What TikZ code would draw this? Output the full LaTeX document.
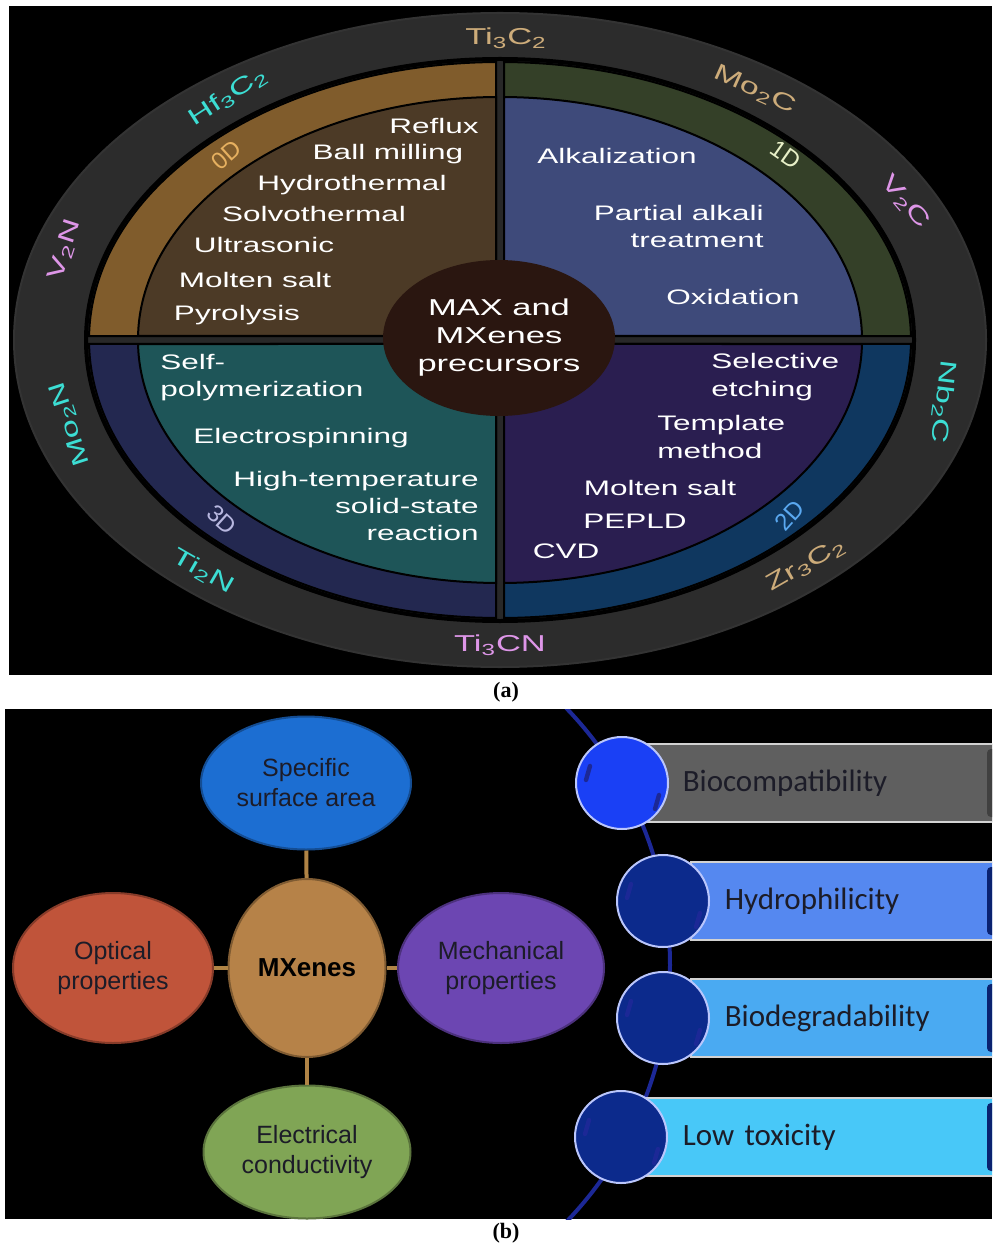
\documentclass[tikz,border=0pt]{standalone}
\usepackage{fontspec}
\setmainfont{Liberation Sans}
\newfontfamily\widefont[FakeStretch=1.5]{Liberation Sans}
\newfontfamily\barfont{Carlito}
\newfontfamily\capfont{Liberation Serif}
\usetikzlibrary{shapes.geometric}

% panel (a) colours
\definecolor{ringgray}{RGB}{44,44,44}
\definecolor{gapgray}{RGB}{40,40,40}
\definecolor{zeroring}{RGB}{128,92,44}
\definecolor{zerofill}{RGB}{76,58,38}
\definecolor{onering}{RGB}{52,64,40}
\definecolor{onefill}{RGB}{62,74,122}
\definecolor{threering}{RGB}{35,40,80}
\definecolor{threefill}{RGB}{30,85,88}
\definecolor{tworing}{RGB}{15,55,95}
\definecolor{twofill}{RGB}{42,30,80}
\definecolor{corebrown}{RGB}{42,22,16}
\definecolor{phasetan}{RGB}{205,172,122}
\definecolor{phasepink}{RGB}{222,150,232}
\definecolor{phasecyan}{RGB}{60,222,212}
% panel (b) colours
\definecolor{surfblue}{RGB}{28,110,210}
\definecolor{mxtan}{RGB}{182,130,72}
\definecolor{optred}{RGB}{192,84,58}
\definecolor{mechpurple}{RGB}{108,70,178}
\definecolor{elecgreen}{RGB}{128,165,85}
\definecolor{linktan}{RGB}{176,132,70}
\definecolor{spineblue}{RGB}{28,40,150}
\definecolor{knobbright}{RGB}{26,64,245}
\definecolor{knobdark}{RGB}{12,42,140}
\definecolor{bargray}{RGB}{95,95,95}
\definecolor{barblue}{RGB}{85,136,240}
\definecolor{barsky}{RGB}{74,170,242}
\definecolor{barcyan}{RGB}{72,200,248}
\definecolor{inkdark}{RGB}{28,28,40}

\tikzset{
  quad/.style={draw=black, line width=1pt},
  method/.style={text=white, inner sep=0pt, anchor=base, font=\widefont\fontsize{10.5}{13.5}\selectfont},
  phase/.style={inner sep=0pt, font=\widefont\fontsize{11.5}{13}\selectfont},
  dim/.style={inner sep=0pt, font=\fontsize{12}{14}\selectfont},
  prop/.style={ellipse, inner sep=0pt, align=center, text=inkdark, line width=1pt,
    font=\fontsize{12.5}{15}\selectfont},
  link/.style={linktan, line width=2pt},
  knob/.style={circle, minimum size=46pt, inner sep=0pt, draw=white!70!knobbright, line width=1pt},
  bar/.style={rectangle, minimum height=39pt, inner ysep=0pt, anchor=west, align=left,
    draw=white!65!gray, line width=0.8pt, text=inkdark, font=\barfont\fontsize{15.5}{18}\selectfont},
  streak/.style={line width=2.2pt, line cap=round, draw=spineblue},
  tag/.style={font=\capfont\bfseries\fontsize{11}{13}\selectfont}
}

\begin{document}
\begin{tikzpicture}[x=0.5pt, y=-0.5pt]
\useasboundingbox (0,0) rectangle (992,1245);

% ---------------- panel (a) ----------------
\fill[black] (9,6) rectangle (992,675);

% outer ring carrying the MAX phases
\filldraw[fill=ringgray, draw=black!80!white, line width=1pt] (500,340) ellipse [x radius=486, y radius=327];
\filldraw[fill=gapgray, draw=black, line width=2pt] (500,340) ellipse [x radius=414, y radius=281];

% coloured quadrant bands
\filldraw[quad, fill=zeroring] (496,336) -- (496,62.01) arc[start angle=-90.56, end angle=-179.18, x radius=411, y radius=278] -- cycle;
\filldraw[quad, fill=onering] (504,336) -- (504,62.01) arc[start angle=-89.44, end angle=-0.82, x radius=411, y radius=278] -- cycle;
\filldraw[quad, fill=threering] (496,344) -- (496,617.99) arc[start angle=90.56, end angle=179.18, x radius=411, y radius=278] -- cycle;
\filldraw[quad, fill=tworing] (504,344) -- (504,617.99) arc[start angle=89.44, end angle=0.82, x radius=411, y radius=278] -- cycle;

% inner quadrants
\filldraw[quad, fill=zerofill] (496,336) -- (496,97.01) arc[start angle=-90.63, end angle=-179.06, x radius=362, y radius=243] -- cycle;
\filldraw[quad, fill=onefill] (504,336) -- (504,97.01) arc[start angle=-89.37, end angle=-0.94, x radius=362, y radius=243] -- cycle;
\filldraw[quad, fill=threefill] (496,344) -- (496,582.99) arc[start angle=90.63, end angle=179.06, x radius=362, y radius=243] -- cycle;
\filldraw[quad, fill=twofill] (504,344) -- (504,582.99) arc[start angle=89.37, end angle=0.94, x radius=362, y radius=243] -- cycle;

% centre
\node[ellipse, fill=corebrown, minimum width=116pt, minimum height=78pt, inner sep=0pt,
  text=white, align=center, font=\widefont\fontsize{11.5}{14}\selectfont] (core) at (499,338)
  {MAX and\\MXenes\\precursors};

% 0D methods
\node[method] (reflux) at (434,134) {Reflux};
\node[method] (ball) at (388,160) {Ball milling};
\node[method] (hydro) at (352,191) {Hydrothermal};
\node[method] (solvo) at (314,222) {Solvothermal};
\node[method] (ultra) at (264,253) {Ultrasonic};
\node[method] (moltenA) at (255,288) {Molten salt};
\node[method] (pyro) at (237,321) {Pyrolysis};

% 1D methods
\node[method] (alkal) at (617,164) {Alkalization};
\node[method, anchor=base east, align=right] (partial) at (764,248) {Partial alkali\\treatment};
\node[method] (oxid) at (733,305) {Oxidation};

% 3D methods
\node[method, anchor=base west, align=left] (selfpoly) at (160,397) {Self-\\polymerization};
\node[method] (espin) at (301,444) {Electrospinning};
\node[method, anchor=base east, align=right] (hightemp) at (479,540) {High-temperature\\solid-state\\reaction};

% 2D methods
\node[method, anchor=base west, align=left] (selective) at (711,396) {Selective\\etching};
\node[method, anchor=base west, align=left] (template) at (657,458) {Template\\method};
\node[method] (moltenB) at (660,495) {Molten salt};
\node[method] (pepld) at (635,528) {PEPLD};
\node[method] (cvd) at (566,558) {CVD};

% dimension tags
\node[dim, text={rgb,255:red,230;green,176;blue,96}, rotate=42] (zeroD) at (226,155) {0D};
\node[dim, text={rgb,255:red,232;green,240;blue,200}, rotate=-35] (oneD) at (786,155) {1D};
\node[dim, text={rgb,255:red,90;green,168;blue,240}, rotate=48] (twoD) at (790,515) {2D};
\node[dim, text={rgb,255:red,184;green,184;blue,224}, rotate=-42] (threeD) at (222,520) {3D};

% MAX phases round the ring
\node[phase, text=phasetan] (tic) at (506,38) {Ti\textsubscript{3}C\textsubscript{2}};
\node[phase, text=phasetan, rotate=-24] (moc) at (755,90) {Mo\textsubscript{2}C};
\node[phase, text=phasepink, rotate=-50] (vc) at (905,202) {V\textsubscript{2}C};
\node[phase, text=phasecyan, rotate=-97] (nbc) at (943,402) {Nb\textsubscript{2}C};
\node[phase, text=phasetan, rotate=30] (zrc) at (806,565) {Zr\textsubscript{3}C\textsubscript{2}};
\node[phase, text=phasepink] (ticn) at (500,645) {Ti\textsubscript{3}CN};
\node[phase, text=phasecyan, rotate=-30] (tin) at (203,572) {Ti\textsubscript{2}N};
\node[phase, text=phasecyan, rotate=108] (mon) at (70,424) {Mo\textsubscript{2}N};
\node[phase, text=phasepink, rotate=72] (vn) at (65,250) {V\textsubscript{2}N};
\node[phase, text=phasecyan, rotate=33] (hfc) at (228,97) {Hf\textsubscript{3}C\textsubscript{2}};

\node[tag] (taga) at (506,692) {(a)};

% ---------------- panel (b) ----------------
\fill[black] (5,709) rectangle (992,1219);

% property map
\node[prop, fill=surfblue, draw=surfblue!70!black, minimum width=105pt, minimum height=66.5pt] (surf) at (306,783) {Specific\\surface area};
\node[prop, fill=mxtan, draw=mxtan!70!black, minimum width=78.5pt, minimum height=89pt, font=\bfseries\fontsize{13}{15}\selectfont, text=black] (mx) at (307,968) {MXenes};
\node[prop, fill=optred, draw=optred!70!black, minimum width=100pt, minimum height=75pt] (opt) at (113,968) {Optical\\properties};
\node[prop, fill=mechpurple, draw=mechpurple!70!black, minimum width=103pt, minimum height=75pt] (mech) at (501,968) {Mechanical\\properties};
\node[prop, fill=elecgreen, draw=elecgreen!70!black, minimum width=103.5pt, minimum height=66.5pt] (elec) at (307,1152) {Electrical\\conductivity};

\draw[link] (mx) -- (surf);
\draw[link] (mx) -- (opt);
\draw[link] (mx) -- (mech);
\draw[link] (mx) -- (elec);

% bio properties
\begin{scope}
\clip (5,709) rectangle (992,1219);
\draw[spineblue, line width=2pt] (300,965) ++(-44:370) arc[start angle=-44, end angle=44, radius=370];

\node[bar, fill=bargray, minimum width=180pt, text width=138pt, inner xsep=21pt] (bio) at (640,783) {Biocompatibility};
\node[bar, fill=barblue, minimum width=155pt, text width=121pt, inner xsep=17pt] (hydrophil) at (690,901) {Hydrophilicity};
\node[bar, fill=barsky, minimum width=155pt, text width=121pt, inner xsep=17pt] (degrad) at (690,1018) {Biodegradability};
\node[bar, fill=barcyan, minimum width=180pt, text width=138pt, inner xsep=21pt] (lowtox) at (640,1137) {Low toxicity};

% dark ends of the bars
\fill[black!75!white, rounded corners=2pt] (987,749) rectangle (1006,817);
\fill[knobdark!80!black, rounded corners=2pt] (987,867) rectangle (1006,935);
\fill[knobdark!80!black, rounded corners=2pt] (987,984) rectangle (1006,1052);
\fill[knobdark!80!black, rounded corners=2pt] (987,1103) rectangle (1006,1171);

\node[knob, fill=knobbright] (k1) at (622,783) {};
\node[knob, fill=knobdark] (k2) at (663,901) {};
\node[knob, fill=knobdark] (k3) at (663,1018) {};
\node[knob, fill=knobdark] (k4) at (621,1137) {};

\foreach \k in {k1,k2,k3,k4} {
  \draw[streak] ([shift={(-32,-17)}]\k.center) -- ([shift={(-36,-3)}]\k.center);
  \draw[streak] ([shift={(37,12)}]\k.center) -- ([shift={(33,26)}]\k.center);
}
\end{scope}

\node[tag] (tagb) at (506,1233) {(b)};

\end{tikzpicture}
\end{document}
